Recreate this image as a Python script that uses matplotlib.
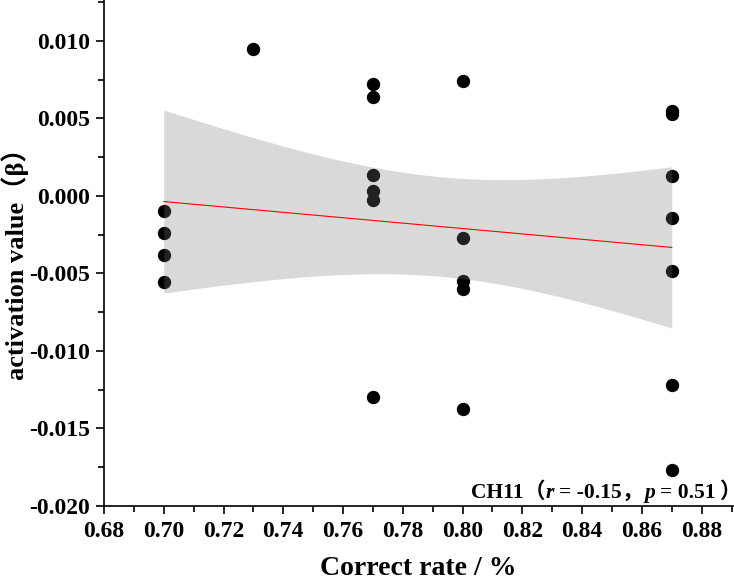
import numpy as np
import matplotlib
matplotlib.use("Agg")
import matplotlib.pyplot as plt
from matplotlib.ticker import MultipleLocator, FormatStrFormatter

# data
rate_070 = [-0.00097, -0.00238, -0.0038, -0.00554]
rate_073 = [0.00947]
rate_077 = [0.00722, 0.00638, 0.00135, 0.00032, -0.00026, -0.01295]
rate_080 = [0.00741, -0.00271, -0.00548, -0.0060, -0.01373]
rate_087 = [0.0055, 0.0053, 0.00129, -0.00142, -0.00483, -0.01218, -0.01765]
rates = [0.70, 0.73, 0.77, 0.80, 0.87]
groups = [rate_070, rate_073, rate_077, rate_080, rate_087]
t_crit = 2.08  # t(0.975, df=21)

# annotation pieces: (text, italic)
note_parts = [("CH11", False), ("（", False), ("r", True), ("= -0.15", False),
              ("，", False), ("p", True), ("= 0.51", False), ("）", False)]
note_gaps = [0, 1, 5, 0, 1, 5, 4]  # pixels between pieces

x = np.concatenate([[r] * len(g) for r, g in zip(rates, groups)])
y = np.concatenate(groups)

plt.rcParams["font.family"] = ["Liberation Serif", "Noto Sans CJK SC"]
plt.rcParams["font.weight"] = "bold"

W, H = 734, 585
fig = plt.figure(figsize=(W / 100, H / 100), dpi=100)
ax = fig.add_axes([0.1417, 0.135, 0.857, 0.865])

ax.plot(x, y, "o", color="black", markersize=8.6, zorder=2)

# linear fit with 95% confidence band
n = len(x)
slope, intercept = np.polyfit(x, y, 1)
resid = y - (slope * x + intercept)
s = np.sqrt(np.sum(resid ** 2) / (n - 2))
xs = np.linspace(x.min(), x.max(), 100)
ys = slope * xs + intercept
se = s * np.sqrt(1 / n + (xs - x.mean()) ** 2 / np.sum((x - x.mean()) ** 2))
ax.fill_between(xs, ys - t_crit * se, ys + t_crit * se, color=(0.47, 0.47, 0.47),
                alpha=0.28, linewidth=0, zorder=3)
ax.plot(xs, ys, color="red", linewidth=0.8, zorder=4)

ax.set_xlim(0.68, 0.8905)
ax.set_ylim(-0.020, 0.01263)
ax.xaxis.set_major_locator(MultipleLocator(0.02))
ax.xaxis.set_minor_locator(MultipleLocator(0.01))
ax.yaxis.set_major_locator(MultipleLocator(0.005))
ax.yaxis.set_minor_locator(MultipleLocator(0.0025))
ax.xaxis.set_major_formatter(FormatStrFormatter("%.2f"))
ax.yaxis.set_major_formatter(FormatStrFormatter("%.3f"))

for side in ["top", "right"]:
    ax.spines[side].set_visible(False)
for side in ["left", "bottom"]:
    ax.spines[side].set_linewidth(1.2)
ax.tick_params(which="major", length=6, width=1.2, labelsize=17, direction="out")
ax.tick_params(which="minor", length=4, width=1.2, direction="out")
ax.tick_params(axis="x", pad=5)
ax.tick_params(axis="y", pad=4)

ax.set_xlabel("Correct rate / %", fontsize=20, fontweight="bold", labelpad=10)
ax.set_ylabel("activation value（β）", fontsize=19, fontweight="bold")
ax.yaxis.set_label_coords(-0.12, 0.49)

# annotation laid out piece by piece (italic r, p and CJK punctuation)
renderer = fig.canvas.get_renderer()
pieces = []
for text, italic in note_parts:
    t = fig.text(0, 0, text, fontsize=15.5, fontweight="bold", ha="left", va="baseline",
                 fontstyle="italic" if italic else "normal")
    pieces.append(t)
widths = [t.get_window_extent(renderer).width for t in pieces]
total = sum(widths) + sum(note_gaps)
xpos = 741 - total
for t, w, g in zip(pieces, widths, note_gaps + [0]):
    t.set_position((xpos / W, (H - 498) / H))
    xpos += w + g

fig.savefig("out.png", dpi=100)
